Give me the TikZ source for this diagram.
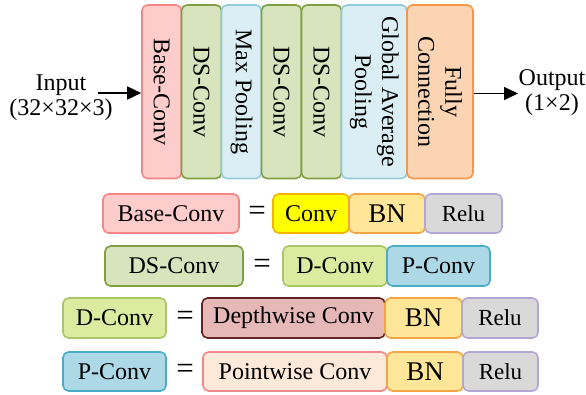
\documentclass[tikz,border=0pt]{standalone}
\usepackage{fontspec}
\setmainfont{Liberation Serif}
\usetikzlibrary{arrows.meta}

\definecolor{basefill}{HTML}{FFCCCC}\definecolor{basedraw}{HTML}{F88585}
\definecolor{dsfill}{HTML}{D7E4BD}\definecolor{dsdraw}{HTML}{7F9F42}
\definecolor{poolfill}{HTML}{DAEEF3}\definecolor{pooldraw}{HTML}{92CDDC}
\definecolor{fcfill}{HTML}{FBD4B4}\definecolor{fcdraw}{HTML}{F79646}
\definecolor{convfill}{HTML}{FFFF00}\definecolor{convdraw}{HTML}{F2B400}
\definecolor{bnfill}{HTML}{FFE699}\definecolor{bndraw}{HTML}{F4A545}
\definecolor{relufill}{HTML}{D9D9D9}\definecolor{reludraw}{HTML}{B4A7D6}
\definecolor{dcfill}{HTML}{DCEB9F}\definecolor{dcdraw}{HTML}{A9C66B}
\definecolor{pcfill}{HTML}{ADD8E6}\definecolor{pcdraw}{HTML}{4BACC6}
\definecolor{depfill}{HTML}{E6B9B8}\definecolor{depdraw}{HTML}{632523}
\definecolor{ptfill}{HTML}{FDE9D9}\definecolor{ptdraw}{HTML}{F08A8A}

\tikzset{
  blk/.style={draw, line width=1.6pt, rounded corners=5.5pt, inner sep=0pt,
    font=\fontsize{24}{27}\selectfont, align=center},
  colblk/.style={blk, rotate=-90, minimum width=173.5pt},
  rowblk/.style={blk},
  txt/.style={inner sep=0pt, align=center, font=\fontsize{24}{25}\selectfont},
  eqsign/.style={inner sep=0pt, font=\fontsize{31}{31}\selectfont},
  arr/.style={line width=1.6pt, -{Triangle[length=14pt,width=13pt]}},
  % colour pairs
  cbase/.style={fill=basefill, draw=basedraw},
  cds/.style={fill=dsfill, draw=dsdraw},
  cpool/.style={fill=poolfill, draw=pooldraw},
  cfc/.style={fill=fcfill, draw=fcdraw},
  cconv/.style={fill=convfill, draw=convdraw},
  cbn/.style={fill=bnfill, draw=bndraw, font=\fontsize{27}{27}\selectfont},
  crelu/.style={fill=relufill, draw=reludraw, font=\fontsize{23}{23}\selectfont},
  cdc/.style={fill=dcfill, draw=dcdraw},
  cpc/.style={fill=pcfill, draw=pcdraw},
  cdep/.style={fill=depfill, draw=depdraw},
  cpt/.style={fill=ptfill, draw=ptdraw},
}

\begin{document}
\begin{tikzpicture}[x=1pt, y=-1pt]
\useasboundingbox (0,0) rectangle (586,394);

% network pipeline
\node[colblk, cbase, minimum height=39.5pt] (base) at (161.75,91.75) {Base-Conv};
\node[colblk, cds,   minimum height=40pt]   (ds1)  at (201.5,91.75) {DS-Conv};
\node[colblk, cpool, minimum height=40pt]   (mp)   at (241.5,91.75) {Max Pooling};
\node[colblk, cds,   minimum height=40pt]   (ds2)  at (281.5,91.75) {DS-Conv};
\node[colblk, cds,   minimum height=40pt]   (ds3)  at (321.5,91.75) {DS-Conv};
\node[colblk, cpool, minimum height=65.5pt] (gap)  at (374.25,91.75) {Global Average\\Pooling};
\node[colblk, cfc,   minimum height=66pt]   (fc)   at (440,91.75) {Fully\\Connection};

\node[txt] (input)  at (61,98) {Input\\(32×32×3)};
\node[txt] (output) at (552,93) {Output\\(1×2)};

\coordinate (inarr)  at (98,93);
\coordinate (outarr) at (518,93.5);
\draw[arr] (inarr) -- (inarr -| base.south);
\draw[arr] (outarr -| fc.north) -- (outarr);

% Base-Conv definition
\node[rowblk, cbase, minimum width=136pt, minimum height=39pt] (lbase) at (171,213.5) {Base-Conv};
\node[eqsign] (eq1) at (257,213.5) {=};
\node[rowblk, cconv, minimum width=76pt, minimum height=39pt] (conv) at (311,213.5) {Conv};
\node[rowblk, cbn,   minimum width=76pt, minimum height=39pt] (bn1)  at (387,213.5) {BN};
\node[rowblk, crelu, minimum width=77pt, minimum height=39pt] (relu1) at (463.5,213.5) {Relu};

% DS-Conv definition
\node[rowblk, cds, minimum width=138pt, minimum height=40pt] (lds) at (174,266) {DS-Conv};
\node[eqsign] (eq2) at (262,266) {=};
\node[rowblk, cdc, minimum width=104pt, minimum height=40pt] (dconv) at (335,266) {D-Conv};
\node[rowblk, cpc, minimum width=103pt, minimum height=40pt] (pconv) at (438.5,266) {P-Conv};

% D-Conv definition
\node[rowblk, cdc, minimum width=103pt, minimum height=40pt] (ld) at (114.5,318) {D-Conv};
\node[eqsign] (eq3) at (185,318) {=};
\node[rowblk, cdep,  minimum width=183pt, minimum height=40pt] (depth) at (293.5,318) {Depthwise Conv};
\node[rowblk, cbn,   minimum width=77pt,  minimum height=40pt] (bn3)   at (423.5,318) {BN};
\node[rowblk, crelu, minimum width=76pt,  minimum height=40pt] (relu3) at (500,318) {Relu};

% P-Conv definition
\node[rowblk, cpc, minimum width=103pt, minimum height=39pt] (lp) at (114.5,371.5) {P-Conv};
\node[eqsign] (eq4) at (185,371.5) {=};
\node[rowblk, cpt,   minimum width=184pt, minimum height=39pt] (point) at (295,371.5) {Pointwise Conv};
\node[rowblk, cbn,   minimum width=76pt,  minimum height=39pt] (bn4)   at (425,371.5) {BN};
\node[rowblk, crelu, minimum width=75pt,  minimum height=39pt] (relu4) at (500.5,371.5) {Relu};
\end{tikzpicture}
\end{document}
